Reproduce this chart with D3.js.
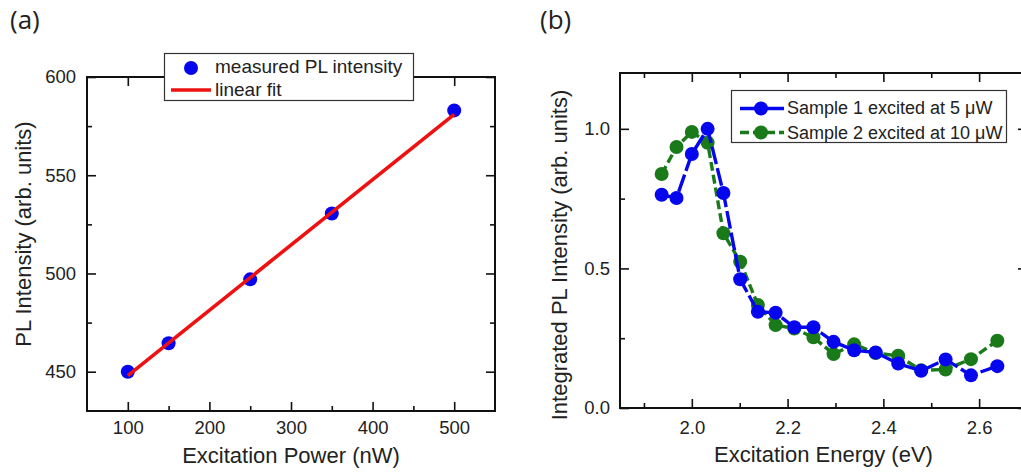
<!DOCTYPE html>
<html>
<head>
<meta charset="utf-8">
<script src="https://cdn.jsdelivr.net/npm/d3@7"></script>
<style>
  html, body { margin: 0; padding: 0; background: #fff; }
  svg { display: block; }
  text { font-family: "Liberation Sans", Arial, sans-serif; fill: #222; }
</style>
</head>
<body>
<svg id="chart" width="1021" height="474"></svg>
<script>
// ---------- Data: panel (a) ----------
const powerNW      = [100, 150, 250, 350, 500];
const plIntensity  = [450, 464.5, 497, 530.5, 583];
const fitPower     = [100, 500];
const fitIntensity = [448, 581];
const xTicksA = [100, 200, 300, 400, 500];
const xMinorA = [150, 250, 350, 450];
const yTicksA = [450, 500, 550, 600];
const yMinorA = [475, 525, 575];

// ---------- Data: panel (b) ----------
const energyEV = [1.937, 1.968, 2.000, 2.033, 2.066, 2.101, 2.138, 2.175, 2.214,
                  2.254, 2.296, 2.339, 2.384, 2.431, 2.479, 2.530, 2.583, 2.638];
const sample1  = [0.764, 0.752, 0.910, 1.000, 0.770, 0.461, 0.345, 0.341, 0.289,
                  0.289, 0.237, 0.207, 0.199, 0.159, 0.133, 0.174, 0.117, 0.150];
const sample2  = [0.838, 0.935, 0.989, 0.950, 0.626, 0.524, 0.369, 0.297, 0.285,
                  0.253, 0.193, 0.228, 0.197, 0.187, 0.135, 0.138, 0.175, 0.241];
const xTicksB = [2.0, 2.2, 2.4, 2.6];
const xMinorB = [1.9, 2.1, 2.3, 2.5, 2.7];
const yTicksB = [0.0, 0.5, 1.0];
const yMinorB = [0.25, 0.75];

const svg = d3.select("#chart");
const TICK = 9, MINOR = 5;
const tickFont = "18.5px";

function styleAxis(g) {
  g.select(".domain").remove();
  g.selectAll(".tick line").attr("stroke", "#111").attr("stroke-width", 1.6);
  g.selectAll(".tick text").style("font-size", tickFont).attr("fill", "#222");
}

function drawPanel(cfg) {
  const { x, y, xt, xm, yt, ym, xfmt, yfmt, topMinor, xPad, yPad } = cfg;
  const [x0, x1] = x.range();
  const [y0, y1] = y.range();
  const g = svg.append("g");
  g.append("g").attr("transform", `translate(0,${y0})`)
    .call(d3.axisBottom(x).tickValues(xt).tickSize(-TICK).tickPadding(xPad).tickFormat(xfmt))
    .call(styleAxis);
  g.append("g").attr("transform", `translate(0,${y0})`)
    .call(d3.axisBottom(x).tickValues(xm).tickSize(-MINOR).tickFormat(""))
    .call(styleAxis);
  g.append("g").attr("transform", `translate(0,${y1})`)
    .call(d3.axisTop(x).tickValues(xt).tickSize(-TICK).tickFormat(""))
    .call(styleAxis);
  if (topMinor) {
    g.append("g").attr("transform", `translate(0,${y1})`)
      .call(d3.axisTop(x).tickValues(xm).tickSize(-MINOR).tickFormat(""))
      .call(styleAxis);
  }
  g.append("g").attr("transform", `translate(${x0},0)`)
    .call(d3.axisLeft(y).tickValues(yt).tickSize(-TICK).tickPadding(yPad).tickFormat(yfmt))
    .call(styleAxis);
  g.append("g").attr("transform", `translate(${x0},0)`)
    .call(d3.axisLeft(y).tickValues(ym).tickSize(-MINOR).tickFormat(""))
    .call(styleAxis);
  g.append("g").attr("transform", `translate(${x1},0)`)
    .call(d3.axisRight(y).tickValues(yt).tickSize(-TICK).tickFormat(""))
    .call(styleAxis);
  g.append("g").attr("transform", `translate(${x1},0)`)
    .call(d3.axisRight(y).tickValues(ym).tickSize(-MINOR).tickFormat(""))
    .call(styleAxis);
  g.append("rect").attr("x", x0).attr("y", y1)
    .attr("width", x1 - x0).attr("height", y0 - y1)
    .attr("fill", "none").attr("stroke", "#111").attr("stroke-width", 2);
  return g;
}

// ================= Panel (a) =================
const xA = d3.scaleLinear().domain([50, 550]).range([87, 495]);
const yA = d3.scaleLinear().domain([430, 600]).range([411, 77]);
const gA = drawPanel({ x: xA, y: yA, xt: xTicksA, xm: xMinorA, yt: yTicksA, ym: yMinorA,
  xfmt: d3.format("d"), yfmt: d3.format("d"), topMinor: false, xPad: 10, yPad: 11 });

gA.append("g").selectAll("circle").data(powerNW).join("circle")
  .attr("cx", (d) => xA(d)).attr("cy", (d, i) => yA(plIntensity[i]))
  .attr("r", 7).attr("fill", "#0505ee");
gA.append("path")
  .datum(fitPower.map((p, i) => [p, fitIntensity[i]]))
  .attr("d", d3.line().x(d => xA(d[0])).y(d => yA(d[1])))
  .attr("stroke", "#ee1111").attr("stroke-width", 3.6).attr("fill", "none");

const legA = svg.append("g");
legA.append("rect").attr("x", 164.5).attr("y", 53.5).attr("width", 249).attr("height", 47)
  .attr("fill", "#fff").attr("stroke", "#333").attr("stroke-width", 1.2);
legA.append("circle").attr("cx", 191).attr("cy", 68).attr("r", 7).attr("fill", "#0505ee");
legA.append("text").attr("x", 215).attr("y", 73).style("font-size", "19px").text("measured PL intensity");
legA.append("line").attr("x1", 171).attr("x2", 211).attr("y1", 90).attr("y2", 90)
  .attr("stroke", "#ee1111").attr("stroke-width", 3.6);
legA.append("text").attr("x", 215).attr("y", 95.5).style("font-size", "19px").text("linear fit");

svg.append("text").attr("x", 291).attr("y", 463).attr("text-anchor", "middle")
  .style("font-size", "22px").text("Excitation Power (nW)");
svg.append("text").attr("transform", "translate(31,234) rotate(-90)").attr("text-anchor", "middle")
  .style("font-size", "22px").text("PL Intensity (arb. units)");
svg.append("text").attr("x", 10).attr("y", 29).style("font-family", "'Open Sans', sans-serif")
  .style("font-size", "26px").attr("fill", "#111").text("(a)");

// ================= Panel (b) =================
const xB = d3.scaleLinear().domain([1.85, 2.70]).range([620, 1027]);
const yB = d3.scaleLinear().domain([0, 1.2]).range([408, 73]);
const gB = drawPanel({ x: xB, y: yB, xt: xTicksB, xm: xMinorB, yt: yTicksB, ym: yMinorB,
  xfmt: d3.format(".1f"), yfmt: d3.format(".1f"), topMinor: true, xPad: 13, yPad: 10 });

const lineB = d3.line().x(d => xB(d[0])).y(d => yB(d[1]));
const series = [
  { vals: sample2, color: "#1a7a1a", dash: "9,4" },
  { vals: sample1, color: "#0505ee", dash: "18,4" }
];
series.forEach(s => {
  const pts = energyEV.map((e, i) => [e, s.vals[i]]);
  gB.append("path").datum(pts).attr("d", lineB)
    .attr("stroke", s.color).attr("stroke-width", 3.4).attr("fill", "none")
    .attr("stroke-dasharray", s.dash);
  gB.append("g").selectAll("circle").data(pts).join("circle")
    .attr("cx", d => xB(d[0])).attr("cy", d => yB(d[1]))
    .attr("r", 7).attr("fill", s.color);
});

const legB = svg.append("g");
legB.append("rect").attr("x", 731.5).attr("y", 90.5).attr("width", 275).attr("height", 52)
  .attr("fill", "#fff").attr("stroke", "#333").attr("stroke-width", 1.2);
legB.append("line").attr("x1", 740).attr("x2", 784).attr("y1", 108.5).attr("y2", 108.5)
  .attr("stroke", "#0505ee").attr("stroke-width", 3.4);
legB.append("circle").attr("cx", 761).attr("cy", 108.5).attr("r", 7).attr("fill", "#0505ee");
legB.append("text").attr("x", 787).attr("y", 114).style("font-size", "18px").text("Sample 1 excited at 5 \u03bcW");
legB.append("line").attr("x1", 740).attr("x2", 784).attr("y1", 132.5).attr("y2", 132.5)
  .attr("stroke", "#1a7a1a").attr("stroke-width", 3.4).attr("stroke-dasharray", "9,4");
legB.append("circle").attr("cx", 761).attr("cy", 132.5).attr("r", 7).attr("fill", "#1a7a1a");
legB.append("text").attr("x", 787).attr("y", 138.5).style("font-size", "18px").text("Sample 2 excited at 10 \u03bcW");

svg.append("text").attr("x", 823.5).attr("y", 462).attr("text-anchor", "middle")
  .style("font-size", "22px").text("Excitation Energy (eV)");
svg.append("text").attr("transform", "translate(567,255) rotate(-90)").attr("text-anchor", "middle")
  .style("font-size", "22px").text("Integrated PL Intensity (arb. units)");
svg.append("text").attr("x", 540).attr("y", 29).style("font-family", "'Open Sans', sans-serif")
  .style("font-size", "26px").attr("fill", "#111").text("(b)");
</script>
</body>
</html>
